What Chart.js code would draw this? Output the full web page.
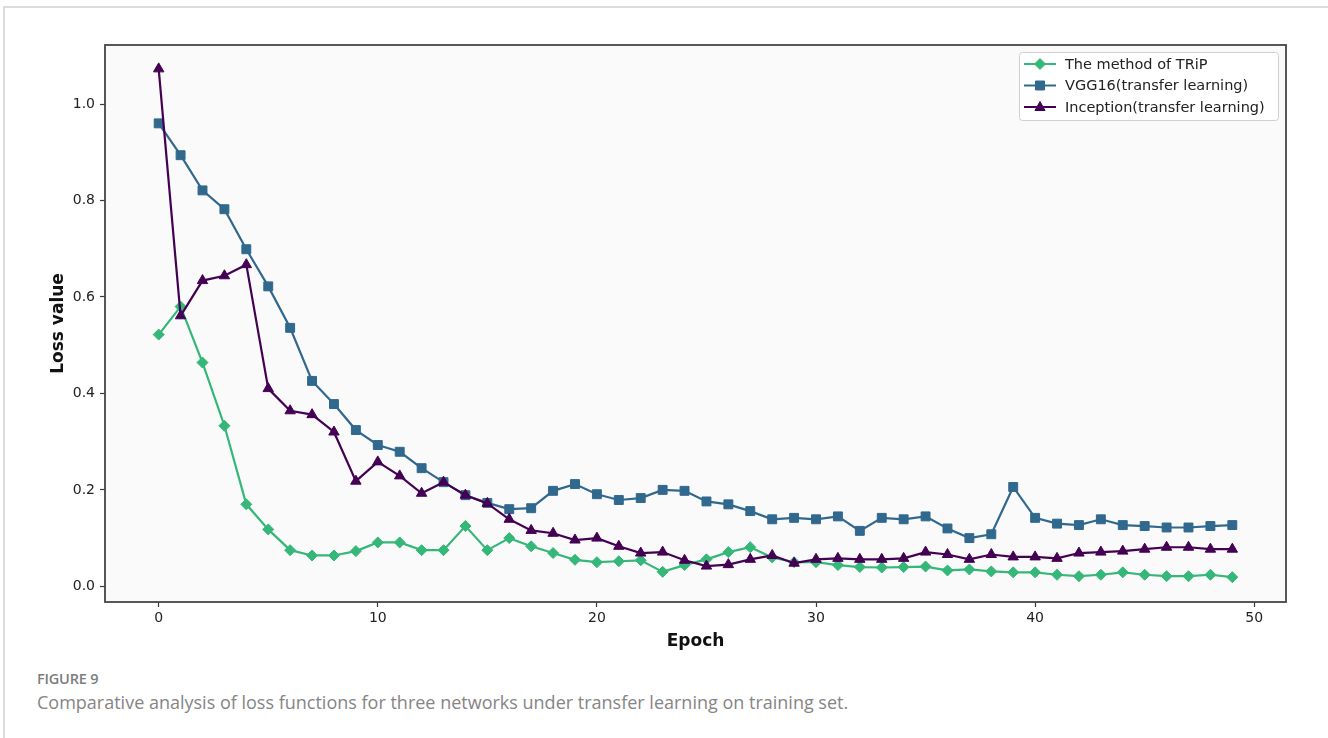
<!DOCTYPE html>
<html>
<head>
<meta charset="utf-8">
<script src="https://cdn.jsdelivr.net/npm/chart.js@4.4.1/dist/chart.umd.min.js"></script>
<style>
  body { margin: 0; background: #fff; width: 1328px; height: 738px; overflow: hidden; position: relative; }
  #card { position: absolute; left: 3px; top: 6px; width: 1400px; height: 800px; border-top: 2px solid #dcdcdc; border-left: 2px solid #dcdcdc; }
  #chart { position: absolute; left: 0; top: 0; }
  .fig { position: absolute; left: 37px; top: 669px; font-family: "Open Sans"; font-size: 14.5px; font-weight: 600; color: #7d7d7d; letter-spacing: -0.2px; }
  .cap { position: absolute; left: 37px; top: 690px; font-family: "Open Sans"; font-size: 18px; color: #858585; white-space: nowrap; }
</style>
</head>
<body>
<div id="card"></div>
<canvas id="chart" width="1328" height="660"></canvas>
<div class="fig">FIGURE 9</div>
<div class="cap">Comparative analysis of loss functions for three networks under transfer learning on training set.</div>
<script>
  // epochs 0..49
  var epochs = [0,1,2,3,4,5,6,7,8,9,10,11,12,13,14,15,16,17,18,19,20,21,22,23,24,25,26,27,28,29,30,31,32,33,34,35,36,37,38,39,40,41,42,43,44,45,46,47,48,49];

  var trip = [0.522,0.580,0.464,0.333,0.170,0.118,0.075,0.064,0.064,0.073,0.091,0.091,0.075,0.075,0.125,0.075,0.100,0.083,0.069,0.055,
              0.050,0.052,0.054,0.030,0.044,0.056,0.071,0.081,0.060,0.050,0.050,0.044,0.040,0.039,0.040,0.041,0.033,0.035,0.031,0.029,
              0.029,0.024,0.021,0.024,0.029,0.024,0.021,0.021,0.024,0.019];

  var vgg = [0.960,0.894,0.821,0.782,0.699,0.622,0.536,0.426,0.378,0.324,0.293,0.279,0.245,0.216,0.189,0.173,0.160,0.162,0.198,0.212,
             0.191,0.179,0.183,0.200,0.198,0.176,0.170,0.156,0.139,0.142,0.139,0.145,0.115,0.142,0.139,0.145,0.120,0.100,0.108,0.206,
             0.142,0.130,0.127,0.139,0.127,0.125,0.122,0.122,0.125,0.127];

  var inception = [1.073,0.561,0.634,0.644,0.667,0.410,0.364,0.356,0.320,0.218,0.258,0.229,0.193,0.216,0.189,0.172,0.139,0.116,0.110,0.096,
                   0.100,0.083,0.069,0.071,0.054,0.042,0.045,0.056,0.064,0.048,0.056,0.058,0.056,0.056,0.058,0.071,0.066,0.056,0.066,0.061,
                   0.061,0.058,0.069,0.071,0.073,0.077,0.081,0.081,0.077,0.077];

  var seriesNames = ['The method of TRiP', 'VGG16(transfer learning)', 'Inception(transfer learning)'];
  var seriesColors = ['#35b779', '#31688e', '#440154'];
  var seriesMarkers = ['rectRot', 'rect', 'triangle'];

  var xTicks = [0, 10, 20, 30, 40, 50];
  var yTicks = [0.0, 0.2, 0.4, 0.6, 0.8, 1.0];

  function toPoints(values) {
    return values.map(function (v, i) { return { x: epochs[i], y: v }; });
  }

  // marker drawing for the legend handles
  function drawMarker(ctx, style, x, y, color) {
    ctx.save();
    ctx.fillStyle = color;
    ctx.strokeStyle = color;
    ctx.lineWidth = 1;
    ctx.beginPath();
    if (style === 'rectRot') {
      ctx.moveTo(x, y - 5.5); ctx.lineTo(x + 5.5, y); ctx.lineTo(x, y + 5.5); ctx.lineTo(x - 5.5, y);
    } else if (style === 'rect') {
      ctx.rect(x - 4.5, y - 4.5, 9, 9);
    } else {
      ctx.moveTo(x, y - 5.5); ctx.lineTo(x + 5, y + 3.5); ctx.lineTo(x - 5, y + 3.5);
    }
    ctx.closePath();
    ctx.fill();
    ctx.stroke();
    ctx.restore();
  }

  var frame = {
    id: 'frame',
    beforeDraw: function (chart) {
      var a = chart.chartArea, ctx = chart.ctx;
      ctx.save();
      ctx.fillStyle = '#fafafa';
      ctx.fillRect(a.left, a.top, a.right - a.left, a.bottom - a.top);
      ctx.restore();
    },
    afterDraw: function (chart) {
      var a = chart.chartArea, ctx = chart.ctx;
      ctx.save();
      ctx.strokeStyle = '#454545';
      ctx.lineWidth = 1.8;
      ctx.strokeRect(a.left, a.top, a.right - a.left, a.bottom - a.top);

      // legend box
      var bx = 1019, by = 52, bw = 259, bh = 68;
      ctx.fillStyle = 'rgba(255,255,255,0.85)';
      ctx.strokeStyle = '#d0d0d0';
      ctx.lineWidth = 1;
      ctx.beginPath();
      ctx.roundRect(bx + 0.5, by + 0.5, bw, bh, 3);
      ctx.fill();
      ctx.stroke();

      ctx.font = '14.5px "DejaVu Sans"';
      ctx.textBaseline = 'middle';
      ctx.textAlign = 'left';
      chart.data.datasets.forEach(function (ds, i) {
        var ly = 64 + i * 21.5;
        ctx.strokeStyle = ds.borderColor;
        ctx.lineWidth = 2;
        ctx.beginPath();
        ctx.moveTo(1024, ly);
        ctx.lineTo(1056, ly);
        ctx.stroke();
        drawMarker(ctx, seriesMarkers[i], 1040, ly, ds.borderColor);
        ctx.fillStyle = '#222';
        ctx.fillText(ds.label, 1065, ly + 1);
      });
      ctx.restore();
    }
  };

  var allSeries = [trip, vgg, inception];
  var datasets = allSeries.map(function (vals, i) {
    return {
      label: seriesNames[i],
      data: toPoints(vals),
      borderColor: seriesColors[i],
      backgroundColor: seriesColors[i],
      pointBackgroundColor: seriesColors[i],
      pointBorderColor: seriesColors[i],
      pointStyle: seriesMarkers[i],
      pointRadius: i === 0 ? 5.5 : (i === 1 ? 6.3 : 6),
      pointBorderWidth: 1,
      borderWidth: 2.2,
      tension: 0,
      fill: false,
      order: 3 - i
    };
  });

  new Chart(document.getElementById('chart'), {
    type: 'line',
    data: { datasets: datasets },
    plugins: [frame],
    options: {
      responsive: false,
      animation: false,
      layout: { padding: { top: 45, right: 42, left: 0, bottom: 0 } },
      plugins: { legend: { display: false }, tooltip: { enabled: false } },
      scales: {
        x: {
          type: 'linear',
          min: -2.45,
          max: 51.45,
          afterBuildTicks: function (s) { s.ticks = xTicks.map(function (v) { return { value: v }; }); },
          afterFit: function (s) { s.height = 58; },
          grid: { drawOnChartArea: false, tickLength: 5, color: '#3a3a3a', tickWidth: 1.2 },
          border: { display: false },
          ticks: { font: { family: 'DejaVu Sans', size: 14 }, color: '#222', padding: 3, maxRotation: 0, autoSkip: false },
          title: { display: true, text: 'Epoch', color: '#111', font: { family: 'DejaVu Sans', size: 17, weight: 'bold' }, padding: { top: 0, bottom: 8 } }
        },
        y: {
          type: 'linear',
          min: -0.0325,
          max: 1.1225,
          afterBuildTicks: function (s) { s.ticks = yTicks.map(function (v) { return { value: v }; }); },
          afterFit: function (s) { s.width = 105; },
          grid: { drawOnChartArea: false, tickLength: 5, color: '#3a3a3a', tickWidth: 1.2 },
          border: { display: false },
          ticks: { font: { family: 'DejaVu Sans', size: 14 }, color: '#222', padding: 5, callback: function (v) { return v.toFixed(1); } },
          title: { display: true, text: 'Loss value', color: '#111', font: { family: 'DejaVu Sans', size: 17, weight: 'bold' }, padding: { top: 48, bottom: 0 } }
        }
      }
    }
  });
</script>
</body>
</html>
